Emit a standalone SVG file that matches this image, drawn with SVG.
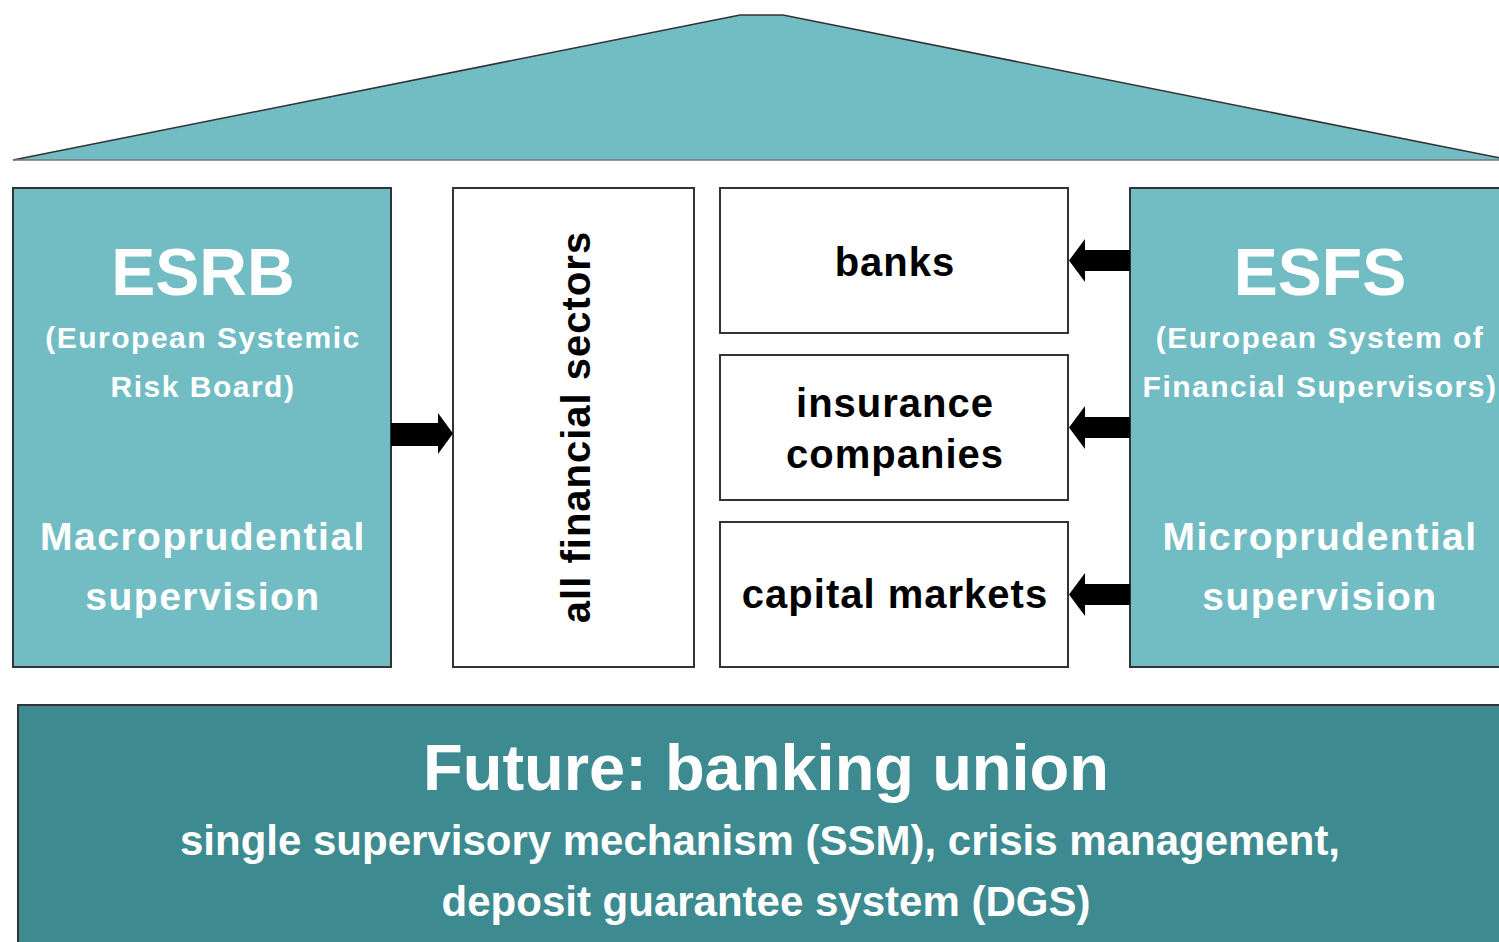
<svg xmlns="http://www.w3.org/2000/svg" width="1499" height="942" viewBox="0 0 1499 942">
  <defs>
    <style>
      .t { font-family: "Liberation Sans", Arial, sans-serif; font-weight: bold; text-anchor: middle; }
      .w { fill: #ffffff; }
      .k { fill: #000000; }
      .pillar { fill: #72bdc4; stroke: #333333; stroke-width: 2; }
      .box { fill: #ffffff; stroke: #333333; stroke-width: 2; }
      .base { fill: #3d8a90; stroke: #333333; stroke-width: 2; }
      .head { font-size: 66px; }
      .sub { font-size: 30px; letter-spacing: 1.5px; }
      .mid { font-size: 39px; letter-spacing: 1.5px; }
      .lbl { font-size: 40px; letter-spacing: 1px; }
      .arrow { fill: #000000; }
    </style>
  </defs>
  <rect width="1499" height="942" fill="#ffffff"/>

  <!-- roof -->
  <g id="roof">
    <polygon points="13,160 740,15 783,15 1500,158 1500,160" fill="#72bdc4" stroke="none"/>
    <polyline points="13,160 740,15 783,15 1500,158" fill="none" stroke="#333333" stroke-width="1.5"/>
    <line x1="13" y1="160" x2="1499" y2="160" stroke="#777777" stroke-width="1.5"/>
  </g>

  <!-- left pillar -->
  <g id="esrb">
    <rect class="pillar" x="13" y="188" width="378" height="479"/>
    <text class="t w head" x="203" y="295">ESRB</text>
    <text class="t w sub" x="203" y="348">(European Systemic</text>
    <text class="t w sub" x="203" y="397">Risk Board)</text>
    <text class="t w mid" x="203" y="550">Macroprudential</text>
    <text class="t w mid" x="203" y="610">supervision</text>
  </g>

  <!-- all sectors -->
  <g id="sectors">
    <rect class="box" x="453" y="188" width="241" height="479"/>
    <text class="t k lbl" transform="translate(590,427) rotate(-90)" x="0" y="0">all financial sectors</text>
  </g>

  <g id="banks">
    <rect class="box" x="720" y="188" width="348" height="145"/>
    <text class="t k lbl" x="895" y="276">banks</text>
  </g>

  <g id="insurance">
    <rect class="box" x="720" y="355" width="348" height="145"/>
    <text class="t k lbl" x="895" y="417">insurance</text>
    <text class="t k lbl" x="895" y="468">companies</text>
  </g>

  <g id="capital">
    <rect class="box" x="720" y="522" width="348" height="145"/>
    <text class="t k lbl" x="895" y="608">capital markets</text>
  </g>

  <!-- right pillar -->
  <g id="esfs">
    <rect class="pillar" x="1130" y="188" width="380" height="479"/>
    <text class="t w head" x="1320" y="295">ESFS</text>
    <text class="t w sub" x="1320" y="348">(European System of</text>
    <text class="t w sub" x="1320" y="397">Financial Supervisors)</text>
    <text class="t w mid" x="1320" y="550">Microprudential</text>
    <text class="t w mid" x="1320" y="610">supervision</text>
  </g>

  <!-- foundation -->
  <g id="union">
    <rect class="base" x="18" y="705" width="1500" height="260"/>
    <text class="t w" x="766" y="790" font-size="65">Future: banking union</text>
    <text class="t w" x="760" y="855" font-size="42">single supervisory mechanism (SSM), crisis management,</text>
    <text class="t w" x="766" y="916" font-size="42">deposit guarantee system (DGS)</text>
  </g>

  <!-- connectors -->
  <g id="connectors">
    <polygon class="arrow" points="391,423 438,423 438,413 453,433.5 438,454 438,446 391,446"/>
    <polygon class="arrow" points="1130,250 1085,250 1085,239 1069,260.5 1085,282 1085,271 1130,271"/>
    <polygon class="arrow" points="1130,417 1085,417 1085,406 1069,427.5 1085,449 1085,438 1130,438"/>
    <polygon class="arrow" points="1130,584 1085,584 1085,573 1069,594.5 1085,616 1085,605 1130,605"/>
  </g>
</svg>
